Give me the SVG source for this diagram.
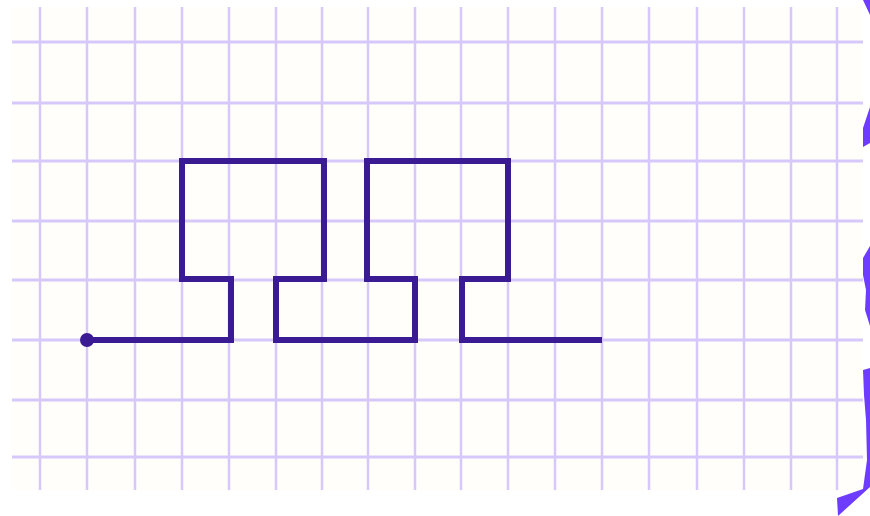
<svg xmlns="http://www.w3.org/2000/svg" width="870" height="516" viewBox="0 0 870 516">
  <style>
    .grid line { stroke: #d6c8fa; }
    .gv line { stroke-width: 2.5; }
    .gh line { stroke-width: 3; }
    .trace { fill: none; stroke: #3a1b94; stroke-width: 6; stroke-linejoin: miter; stroke-linecap: square; }
    .edge { fill: #6e3cff; }
  </style>
  <rect x="0" y="0" width="870" height="516" fill="#ffffff"/>
  <g id="paper">
    <rect x="12" y="7" width="851" height="483" fill="#fffefa"/>
    <g class="grid gv" id="grid-vertical">
      <line x1="40" y1="7" x2="40" y2="490"/>
      <line x1="87" y1="7" x2="87" y2="490"/>
      <line x1="135" y1="7" x2="135" y2="490"/>
      <line x1="182" y1="7" x2="182" y2="490"/>
      <line x1="229" y1="7" x2="229" y2="490"/>
      <line x1="276" y1="7" x2="276" y2="490"/>
      <line x1="322" y1="7" x2="322" y2="490"/>
      <line x1="368" y1="7" x2="368" y2="490"/>
      <line x1="415" y1="7" x2="415" y2="490"/>
      <line x1="461" y1="7" x2="461" y2="490"/>
      <line x1="508" y1="7" x2="508" y2="490"/>
      <line x1="555" y1="7" x2="555" y2="490"/>
      <line x1="602" y1="7" x2="602" y2="490"/>
      <line x1="649" y1="7" x2="649" y2="490"/>
      <line x1="697" y1="7" x2="697" y2="490"/>
      <line x1="744" y1="7" x2="744" y2="490"/>
      <line x1="791" y1="7" x2="791" y2="490"/>
      <line x1="837" y1="7" x2="837" y2="490"/>
    </g>
    <g class="grid gh" id="grid-horizontal">
      <line x1="12" y1="42" x2="863" y2="42"/>
      <line x1="12" y1="103" x2="863" y2="103"/>
      <line x1="12" y1="161" x2="863" y2="161"/>
      <line x1="12" y1="221" x2="863" y2="221"/>
      <line x1="12" y1="280" x2="863" y2="280"/>
      <line x1="12" y1="340" x2="863" y2="340"/>
      <line x1="12" y1="400" x2="863" y2="400"/>
      <line x1="12" y1="457" x2="863" y2="457"/>
    </g>
  </g>
  <g id="trace">
    <polyline class="trace" points="87,340 231,340 231,279 182,279 182,161 324,161 324,279 276,279 276,340 415,340 415,279 367,279 367,161 508,161 508,279 462,279 462,340 599,340"/>
    <circle id="start-dot" cx="87" cy="340" r="7" fill="#3a1b94"/>
  </g>
  <g id="torn-edge">
    <polygon class="edge" points="863,0 870,0 870,15"/>
    <polygon class="edge" points="870,107 863,128 863,147 870,143"/>
    <polygon class="edge" points="870,246 863,258 863,275 866,290 865,310 870,326"/>
    <polygon class="edge" points="870,368 863,370 864,395 866,420 867,460 863,489 837,498 838,516 870,487"/>
  </g>
</svg>
